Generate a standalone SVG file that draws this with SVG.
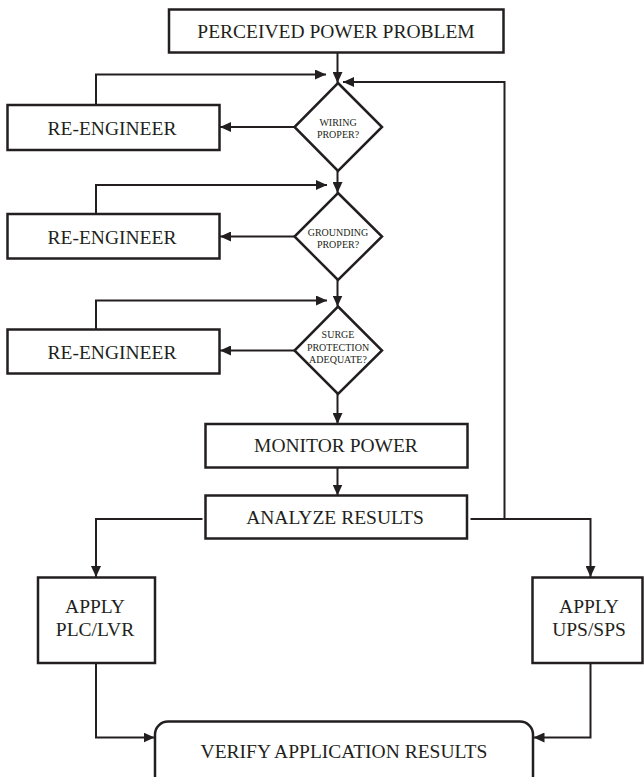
<svg xmlns="http://www.w3.org/2000/svg" width="644" height="777" viewBox="0 0 644 777">
<style>
.box{fill:#fff;stroke:#231f20;stroke-width:2.5}
.t{font-family:"Liberation Serif","Times New Roman",serif;font-size:19.5px;fill:#231f20;text-anchor:middle}
.s{font-family:"Liberation Serif","Times New Roman",serif;font-size:10px;fill:#231f20;text-anchor:middle}
.c{fill:none;stroke:#231f20;stroke-width:2;marker-end:url(#ah)}
</style>
<defs>
<marker id="ah" markerUnits="userSpaceOnUse" markerWidth="12" markerHeight="10" refX="11" refY="5" orient="auto">
<path d="M0,0 L11,5 L0,10 Z" fill="#231f20"/>
</marker>
</defs>
<rect width="644" height="777" fill="#fff"/>
<g id="connectors">
<path class="c" d="M337.5,53 V83"/>
<path class="c" d="M96,105 V74.5 H326"/>
<path class="c" d="M504.5,519 V82 H343"/>
<path class="c" d="M294.5,127 H220"/>
<path class="c" d="M337.5,171 V193"/>
<path class="c" d="M96,214 V185 H327"/>
<path class="c" d="M294.5,236.5 H220"/>
<path class="c" d="M337.5,280 V306.5"/>
<path class="c" d="M96,329 V300.5 H327"/>
<path class="c" d="M294.5,350.5 H220"/>
<path class="c" d="M337.5,394 V424"/>
<path class="c" d="M337.5,468 V495.5"/>
<path class="c" d="M202.5,519 H96 V577"/>
<path class="c" d="M470.5,519 H590.5 V577"/>
<path class="c" d="M96,663 V737.5 H154.5"/>
<path class="c" d="M590.5,663 V737.5 H533.5"/>
</g>
<g id="perceived">
<rect class="box" x="169" y="9.5" width="334.5" height="43"/>
<text class="t" x="336" y="37.5">PERCEIVED POWER PROBLEM</text>
</g>
<g id="wiring">
<path class="box" d="M338,83 L382,127 L338,171 L294.5,127 Z"/>
<text class="s" x="338" y="126">WIRING</text>
<text class="s" x="338" y="137.5">PROPER?</text>
</g>
<g id="reeng1">
<rect class="box" x="7.5" y="105" width="212" height="45"/>
<text class="t" x="112" y="135">RE-ENGINEER</text>
</g>
<g id="grounding">
<path class="box" d="M338,193 L382,236.5 L338,280 L294.5,236.5 Z"/>
<text class="s" x="338" y="236">GROUNDING</text>
<text class="s" x="338" y="248">PROPER?</text>
</g>
<g id="reeng2">
<rect class="box" x="7.5" y="214" width="212" height="44.5"/>
<text class="t" x="112" y="243.5">RE-ENGINEER</text>
</g>
<g id="surge">
<path class="box" d="M338,306.5 L382,350.5 L338,394 L294.5,350.5 Z"/>
<text class="s" x="338" y="338">SURGE</text>
<text class="s" x="338" y="350.5">PROTECTION</text>
<text class="s" x="338" y="363">ADEQUATE?</text>
</g>
<g id="reeng3">
<rect class="box" x="7.5" y="329.5" width="212" height="44"/>
<text class="t" x="112" y="358.5">RE-ENGINEER</text>
</g>
<g id="monitor">
<rect class="box" x="205.5" y="424" width="262" height="43.5"/>
<text class="t" x="336" y="451.5">MONITOR POWER</text>
</g>
<g id="analyze">
<rect class="box" x="205.5" y="495.5" width="261.5" height="43"/>
<text class="t" x="335" y="523.5">ANALYZE RESULTS</text>
</g>
<g id="plc">
<rect class="box" x="38" y="577.5" width="117" height="85.5"/>
<text class="t" x="95" y="613">APPLY</text>
<text class="t" x="95" y="636">PLC/LVR</text>
</g>
<g id="ups">
<rect class="box" x="532.5" y="577.5" width="110" height="85.5"/>
<text class="t" x="589" y="613">APPLY</text>
<text class="t" x="589" y="636">UPS/SPS</text>
</g>
<g id="verify">
<rect class="box" x="155" y="721.5" width="378" height="70" rx="13" ry="13"/>
<text class="t" x="344" y="757.5">VERIFY APPLICATION RESULTS</text>
</g>
</svg>
